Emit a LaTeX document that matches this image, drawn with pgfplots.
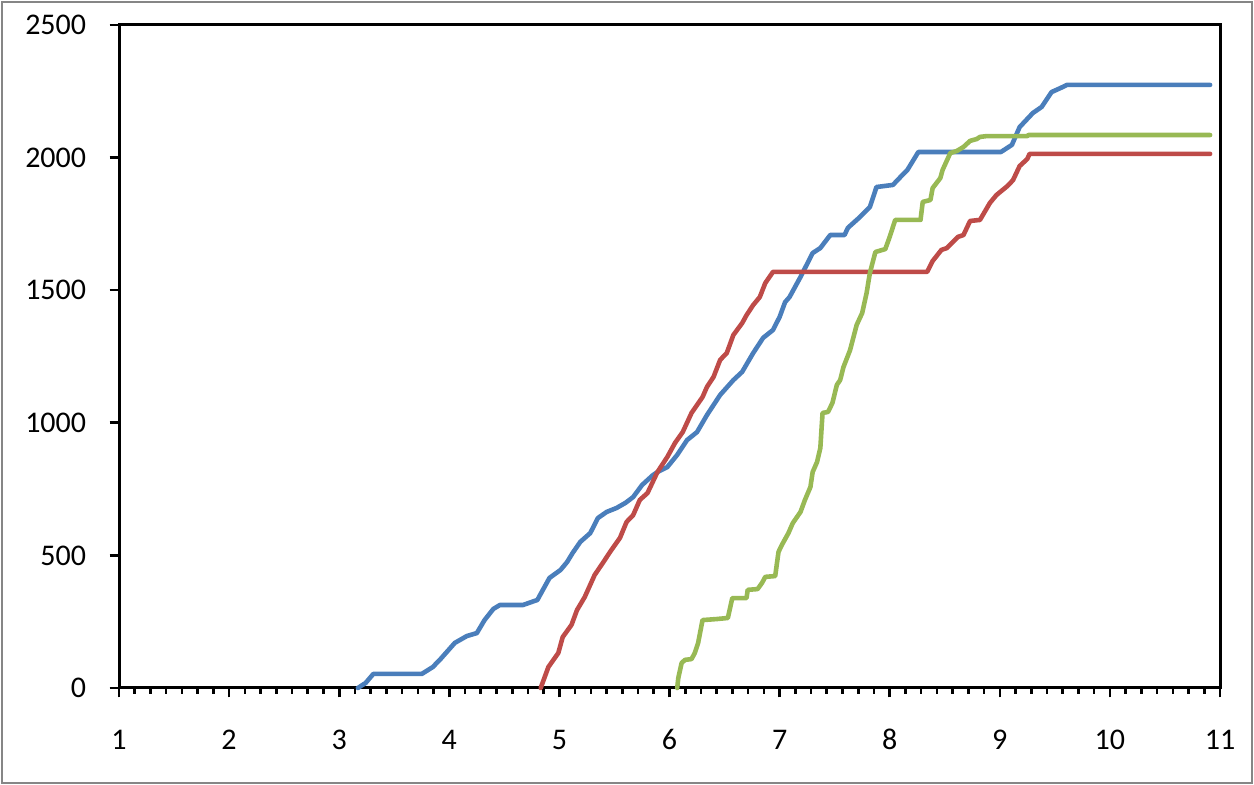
\documentclass[border=0pt]{standalone}
\usepackage{fontspec}
\setmainfont{Carlito}
\usepackage{pgfplots}
\pgfplotsset{compat=1.18}

\definecolor{sblue}{HTML}{4A7EBB}
\definecolor{sred}{HTML}{BE4B48}
\definecolor{sgreen}{HTML}{98B954}
\definecolor{frame}{HTML}{868686}

\begin{document}
\begin{tikzpicture}
\useasboundingbox (0,0) rectangle (627pt,392.5pt);
\draw[frame, line width=1pt] (0.8pt,0.8pt) rectangle (626.2pt,391.7pt);
\begin{axis}[
	at={(59.5pt,48.5pt)}, anchor=south west,
	scale only axis,
	width=550.5pt, height=331.5pt,
	xmin=1, xmax=11, ymin=0, ymax=2500,
	xtick={1,...,11}, ytick={0,500,...,2500},
	minor x tick num=6,
	xtick pos=left, ytick pos=left,
	tick align=outside,
	major tick length=4.75pt, minor tick length=3pt,
	every tick/.style={black, line width=1.3pt},
	axis line style={black, line width=1.5pt},
	/pgf/number format/assume math mode=true,
	/pgf/number format/1000 sep=,
	tick label style={font=\fontsize{15}{18}\selectfont},
	xticklabel style={anchor=base, yshift=-26pt},
	yticklabel style={anchor=east, inner sep=0pt, xshift=-11.5pt},
	every axis plot/.append style={line width=2.3pt, line join=round, line cap=round},
	clip=false,
]
% blue series
\addplot[sblue] coordinates {
(3.17,0) (3.24,19) (3.31,53) (3.75,53) (3.85,79) (3.92,109) (4.05,170)
(4.16,196) (4.25,207) (4.32,256) (4.40,298) (4.46,313) (4.67,313) (4.80,332)
(4.85,370) (4.91,415) (5.01,445) (5.07,475) (5.12,509) (5.19,551) (5.28,584)
(5.35,641) (5.43,664) (5.52,679) (5.60,698) (5.67,720) (5.75,765) (5.85,803)
(5.89,814) (5.98,833) (6.07,879) (6.16,935) (6.25,965) (6.34,1029) (6.46,1105)
(6.58,1161) (6.66,1192) (6.76,1263) (6.85,1320) (6.94,1350) (7.00,1399)
(7.05,1455) (7.09,1474) (7.19,1550) (7.30,1640) (7.37,1659) (7.46,1708)
(7.59,1708) (7.62,1735) (7.73,1776) (7.82,1814) (7.88,1889) (8.03,1897)
(8.07,1915) (8.16,1953) (8.26,2021) (9.01,2021) (9.11,2048) (9.18,2115)
(9.30,2168) (9.38,2191) (9.47,2247) (9.55,2262) (9.61,2274) (10.91,2274)
};
% red series
\addplot[sred] coordinates {
(4.83,0) (4.90,79) (4.99,132) (5.03,192) (5.11,238) (5.16,294) (5.23,343)
(5.32,426) (5.40,475) (5.46,513) (5.55,566) (5.61,626) (5.67,652) (5.73,709)
(5.80,735) (5.89,814) (5.98,871) (6.05,924) (6.12,965) (6.20,1037) (6.30,1097)
(6.34,1135) (6.40,1173) (6.46,1237) (6.52,1263) (6.58,1331) (6.66,1376)
(6.70,1406) (6.76,1444) (6.82,1474) (6.87,1527) (6.94,1569) (8.34,1569)
(8.39,1610) (8.47,1652) (8.52,1659) (8.62,1701) (8.67,1708) (8.73,1761)
(8.82,1765) (8.91,1829) (8.97,1859) (9.07,1893) (9.12,1915) (9.18,1968)
(9.25,1995) (9.27,2014) (10.91,2014)
};
% green series
\addplot[sgreen] coordinates {
(6.07,0) (6.08,38) (6.11,94) (6.14,106) (6.20,109) (6.23,132) (6.26,170)
(6.30,256) (6.43,260) (6.53,264) (6.57,339) (6.70,339) (6.71,370) (6.80,373)
(6.84,396) (6.87,419) (6.96,422) (6.99,513) (7.02,539) (7.08,584) (7.12,622)
(7.19,664) (7.23,709) (7.28,758) (7.30,814) (7.34,852) (7.37,905) (7.39,1037)
(7.44,1041) (7.48,1075) (7.52,1143) (7.55,1161) (7.58,1210) (7.64,1274)
(7.70,1369) (7.75,1414) (7.79,1489) (7.82,1565) (7.87,1644) (7.96,1655)
(8.00,1701) (8.05,1765) (8.28,1765) (8.30,1833) (8.37,1840) (8.39,1885)
(8.46,1923) (8.48,1953) (8.55,2017) (8.61,2025) (8.67,2040) (8.73,2063)
(8.79,2070) (8.82,2078) (8.88,2081) (9.25,2081) (9.26,2085) (10.91,2085)
};
\end{axis}
\end{tikzpicture}
\end{document}
